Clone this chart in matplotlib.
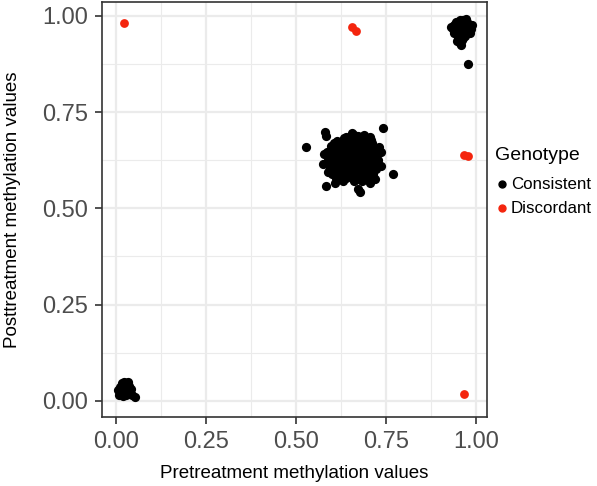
import matplotlib
matplotlib.use('Agg')
import matplotlib.pyplot as plt
from matplotlib.lines import Line2D

plt.rcParams['font.family'] = ['Liberation Sans', 'DejaVu Sans']

# Consistent genotype: three clusters (pre, post)
low_x = [0.010, 0.015, 0.022, 0.030, 0.035, 0.040, 0.012, 0.018, 0.025, 0.030,
         0.020, 0.028, 0.015, 0.038, 0.045, 0.053, 0.008, 0.025, 0.033, 0.005]
low_y = [0.035, 0.045, 0.048, 0.044, 0.038, 0.030, 0.025, 0.020, 0.030, 0.025,
         0.012, 0.015, 0.035, 0.022, 0.015, 0.010, 0.015, 0.040, 0.050, 0.028]

mid_x = [0.600, 0.605, 0.610, 0.615, 0.620, 0.620, 0.625, 0.625, 0.630, 0.630,
         0.635, 0.635, 0.640, 0.640, 0.645, 0.645, 0.650, 0.650, 0.650, 0.655,
         0.655, 0.660, 0.660, 0.665, 0.665, 0.670, 0.670, 0.675, 0.675, 0.680,
         0.680, 0.685, 0.685, 0.690, 0.695, 0.695, 0.700, 0.700, 0.705, 0.710,
         0.715, 0.720, 0.725, 0.590, 0.595, 0.595, 0.605, 0.610, 0.615, 0.640,
         0.660, 0.690, 0.705, 0.715, 0.700, 0.660, 0.630, 0.585, 0.590, 0.712,
         0.730, 0.728, 0.645, 0.675, 0.620, 0.610, 0.655, 0.665, 0.690, 0.600,
         0.527, 0.580, 0.582, 0.583, 0.608, 0.678, 0.672, 0.742, 0.769, 0.575,
         0.578, 0.705, 0.720,
         0.612, 0.618, 0.628, 0.633, 0.638, 0.643, 0.648, 0.653, 0.658, 0.663,
         0.668, 0.673, 0.678, 0.683, 0.688, 0.693, 0.698, 0.703, 0.708, 0.713,
         0.603, 0.622, 0.642, 0.662, 0.682, 0.702, 0.718, 0.598, 0.652, 0.672,
         0.692, 0.632, 0.612, 0.722, 0.688, 0.648, 0.668, 0.708, 0.628, 0.678,
         0.592, 0.735, 0.655, 0.695, 0.615, 0.735]
mid_y = [0.640, 0.620, 0.600, 0.660, 0.585, 0.630, 0.610, 0.650, 0.670, 0.595,
         0.625, 0.640, 0.605, 0.580, 0.660, 0.615, 0.635, 0.595, 0.675, 0.620,
         0.650, 0.605, 0.585, 0.640, 0.665, 0.625, 0.600, 0.650, 0.575, 0.615,
         0.680, 0.635, 0.595, 0.660, 0.620, 0.585, 0.645, 0.670, 0.605, 0.630,
         0.655, 0.615, 0.640, 0.625, 0.650, 0.605, 0.670, 0.580, 0.640, 0.685,
         0.690, 0.690, 0.685, 0.590, 0.580, 0.570, 0.570, 0.645, 0.595, 0.670,
         0.660, 0.625, 0.595, 0.625, 0.615, 0.655, 0.605, 0.580, 0.605, 0.590,
         0.658, 0.699, 0.688, 0.558, 0.566, 0.543, 0.551, 0.709, 0.590, 0.615,
         0.640, 0.565, 0.575,
         0.622, 0.645, 0.588, 0.612, 0.652, 0.628, 0.672, 0.610, 0.640, 0.598,
         0.628, 0.662, 0.598, 0.652, 0.610, 0.670, 0.628, 0.590, 0.648, 0.612,
         0.612, 0.668, 0.592, 0.675, 0.572, 0.658, 0.632, 0.662, 0.582, 0.688,
         0.642, 0.682, 0.632, 0.602, 0.578, 0.670, 0.590, 0.678, 0.630, 0.605,
         0.612, 0.645, 0.695, 0.600, 0.675, 0.610]

high_x = [0.945, 0.955, 0.965, 0.975, 0.940, 0.950, 0.960, 0.970, 0.980, 0.985,
          0.935, 0.945, 0.955, 0.965, 0.975, 0.982, 0.940, 0.950, 0.960, 0.970,
          0.950, 0.960, 0.955, 0.965, 0.978, 0.930, 0.988, 0.958, 0.948, 0.972]
high_y = [0.985, 0.990, 0.988, 0.985, 0.975, 0.975, 0.978, 0.975, 0.972, 0.965,
          0.965, 0.962, 0.965, 0.962, 0.960, 0.955, 0.955, 0.950, 0.952, 0.948,
          0.940, 0.937, 0.930, 0.942, 0.875, 0.970, 0.975, 0.925, 0.935, 0.992]

# Discordant genotype
disc_x = [0.022, 0.656, 0.667, 0.966, 0.978, 0.967]
disc_y = [0.982, 0.972, 0.961, 0.638, 0.635, 0.018]

ticks = [0.00, 0.25, 0.50, 0.75, 1.00]
tick_labels = ['0.00', '0.25', '0.50', '0.75', '1.00']
minor = [0.125, 0.375, 0.625, 0.875]
groups = ['Consistent', 'Discordant']

BLACK = '#000000'
RED = '#F4250E'

W, H = 597, 486
fig = plt.figure(figsize=(W / 100, H / 100), dpi=100)
ax = fig.add_axes([0.171, 0.142, 0.645, 0.854])

cons_x = low_x + mid_x + high_x
cons_y = low_y + mid_y + high_y
ax.scatter(cons_x, cons_y, s=44, color=BLACK, linewidths=0, zorder=3)
ax.scatter(disc_x, disc_y, s=40, color=RED, linewidths=0, zorder=3)

ax.set_xlim(-0.039, 1.031)
ax.set_ylim(-0.042, 1.036)
ax.set_xticks(ticks)
ax.set_xticklabels(tick_labels)
ax.set_yticks(ticks)
ax.set_yticklabels(tick_labels)
ax.set_xticks(minor, minor=True)
ax.set_yticks(minor, minor=True)

ax.grid(True, which='major', color='#EBEBEB', linewidth=1.6, zorder=0)
ax.grid(True, which='minor', color='#EBEBEB', linewidth=0.8, zorder=0)
ax.set_axisbelow(True)
ax.tick_params(which='minor', length=0)
ax.tick_params(which='major', length=5, width=1.2, color='#333333',
               labelcolor='#4D4D4D', labelsize=17, pad=5)
for sp in ax.spines.values():
    sp.set_color('#333333')
    sp.set_linewidth(1.2)

ax.set_xlabel('Pretreatment methylation values', fontsize=13.5, labelpad=9)
ax.set_ylabel('Posttreatment methylation values', fontsize=13.5, labelpad=15)

# legend drawn by hand (ggplot style)
fig.text(495 / W, 1 - 155 / H, 'Genotype', fontsize=14, ha='left', va='center')
for i, (name, col) in enumerate(zip(groups, [BLACK, RED])):
    yy = 1 - (184 + 24 * i) / H
    fig.add_artist(Line2D([502 / W], [yy], marker='o', linestyle='', color=col,
                          markersize=5, transform=fig.transFigure))
    fig.text(511 / W, yy, name, fontsize=12.2, ha='left', va='center')

plt.savefig('out.png', dpi=100)
plt.close()
